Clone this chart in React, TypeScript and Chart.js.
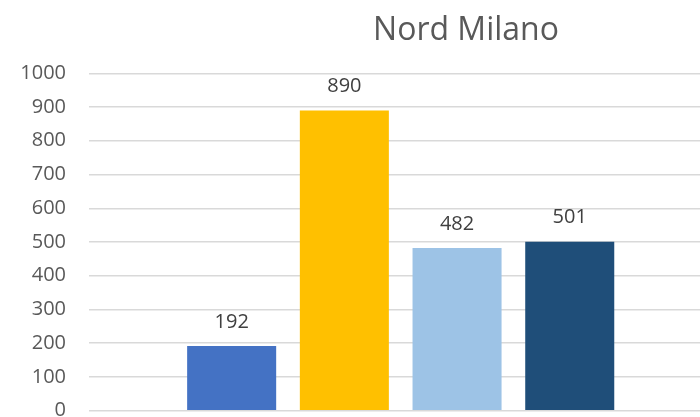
import React, { useEffect, useRef } from "react";
import { Chart, registerables } from "chart.js";

Chart.register(...registerables);

const categories = ["Nord Milano"];
const seriesNames = ["Serie 1", "Serie 2", "Serie 3", "Serie 4"];
const seriesValues = [192, 890, 482, 501];
const seriesColors = ["#4472C4", "#FFC000", "#9DC3E6", "#1F4E79"];
const yTickMax = 1000;
const yTickStep = 100;

const FONT = "'Open Sans', Lato, 'DejaVu Sans', sans-serif";

const valueLabels = {
  id: "valueLabels",
  afterDatasetsDraw(chart: any) {
    const ctx = chart.ctx;
    ctx.save();
    ctx.font = `20px ${FONT}`;
    ctx.fillStyle = "#404040";
    ctx.textAlign = "center";
    ctx.textBaseline = "middle";
    chart.data.datasets.forEach((ds: any, i: number) => {
      const meta = chart.getDatasetMeta(i);
      meta.data.forEach((el: any, j: number) => {
        ctx.fillText(String(ds.data[j]), el.x, el.y - 24);
      });
    });
    ctx.restore();
  },
};

export default function App() {
  const ref = useRef<HTMLCanvasElement | null>(null);
  useEffect(() => {
    if (!ref.current) return;
    const chart = new Chart(ref.current, {
      type: "bar",
      data: {
        labels: categories,
        datasets: seriesValues.map((v, i) => ({
          label: seriesNames[i],
          data: [v],
          backgroundColor: seriesColors[i],
          borderWidth: 0,
          categoryPercentage: 0.7231,
          barPercentage: 0.79,
        })),
      },
      options: {
        responsive: false,
        animation: false,
        layout: { padding: { left: 0, right: 0, top: 0, bottom: 49.3 } },
        plugins: {
          legend: { display: false },
          tooltip: { enabled: false },
          title: {
            display: true,
            text: "Nord Milano",
            color: "#595959",
            font: { family: FONT, size: 32, weight: "normal", lineHeight: 1.2 },
            padding: { top: 11.8, bottom: 23.1 },
          },
        },
        scales: {
          x: { display: false },
          y: {
            min: 0,
            max: yTickMax,
            ticks: {
              stepSize: yTickStep,
              color: "#595959",
              font: { family: FONT, size: 20 },
              padding: 23,
              callback: (v: any) => String(v),
            },
            grid: { color: "#D9D9D9", lineWidth: 1.5, drawTicks: false },
            border: { display: false },
            afterFit: (s: any) => {
              s.width = 89;
            },
          },
          yRight: {
            type: "linear",
            position: "right",
            display: true,
            ticks: { display: false },
            grid: { display: false, drawTicks: false },
            border: { display: false },
            afterFit: (s: any) => {
              s.width = 219.6;
            },
          },
        },
      },
      plugins: [valueLabels],
    } as any);
    return () => chart.destroy();
  }, []);
  return (
    <div style={{ position: "fixed", left: 0, top: 0, width: 700, height: 417, overflow: "hidden", background: "#fff" }}>
      <div style={{ position: "absolute", left: 0, top: 0, width: 932, height: 460 }}>
        <canvas ref={ref} width={932} height={460} style={{ display: "block" }} />
      </div>
    </div>
  );
}
